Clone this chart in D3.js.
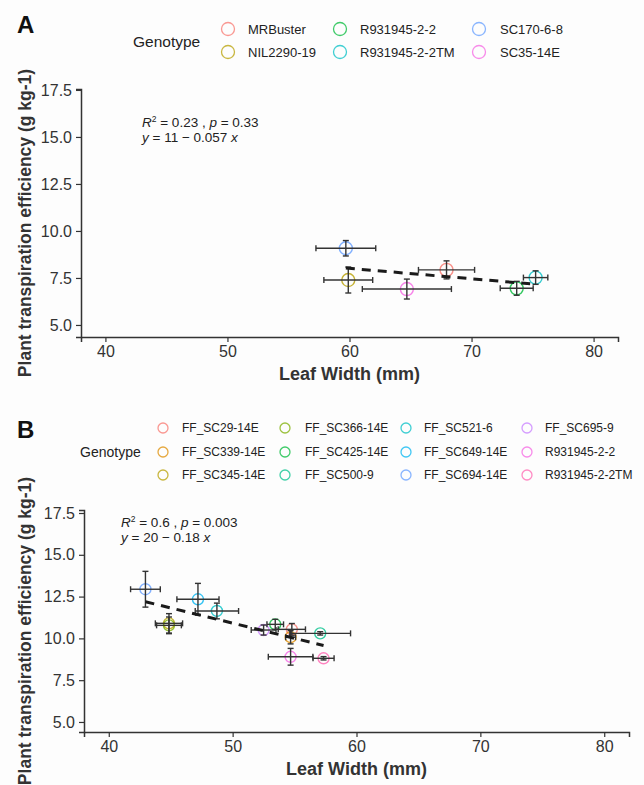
<!DOCTYPE html>
<html>
<head>
<meta charset="utf-8">
<script src="https://cdn.jsdelivr.net/npm/d3@7"></script>
<style>
  body { margin: 0; background: #fdfdfd; }
  svg { display: block; font-family: "Liberation Sans", Arial, sans-serif; }
</style>
</head>
<body>
<svg></svg>
<script>
// panel A data
const genotypesA = ["MRBuster", "NIL2290-19", "R931945-2-2", "R931945-2-2TM", "SC170-6-8", "SC35-14E"];
const colorsA = ["#F8766D", "#B79F00", "#00BA38", "#00BFC4", "#619CFF", "#F564E3"];
const leafWidthA = [67.95, 59.9, 73.7, 75.25, 59.7, 64.7];
const leafWidthSeA = [2.3, 2.0, 1.35, 1.0, 2.45, 3.65];
const pteA = [7.93, 7.39, 6.95, 7.52, 9.08, 6.91];
const pteSeA = [0.48, 0.69, 0.37, 0.36, 0.41, 0.53];
const statsA = ["0.23", "0.33", "11 \u2212 0.057"];

// panel B data
const genotypesB = ["FF_SC29-14E", "FF_SC339-14E", "FF_SC345-14E", "FF_SC366-14E", "FF_SC425-14E", "FF_SC500-9",
                    "FF_SC521-6", "FF_SC649-14E", "FF_SC694-14E", "FF_SC695-9", "R931945-2-2", "R931945-2-2TM"];
const colorsB = ["#F8766D", "#DE8C00", "#B79F00", "#7CAE00", "#00BA38", "#00C08B",
                 "#00BFC4", "#00B4F0", "#619CFF", "#C77CFF", "#F564E3", "#FF64B0"];
const leafWidthB = [54.78, 54.68, 44.86, 44.86, 53.44, 57.07, 48.73, 47.2, 42.96, 52.5, 54.68, 57.34];
const leafWidthSeB = [1.1, 0.4, 1.1, 1.0, 0.67, 2.45, 1.75, 1.7, 1.2, 1.0, 1.8, 0.85];
const pteB = [10.54, 10.07, 10.9, 10.78, 10.84, 10.3, 11.64, 12.34, 12.94, 10.5, 8.9, 8.81];
const pteSeB = [0.35, 0.4, 0.58, 0.5, 0.3, 0.1, 0.47, 0.95, 1.07, 0.3, 0.5, 0.1];
const statsB = ["0.6", "0.003", "20 \u2212 0.18"];

const xTicks = [40, 50, 60, 70, 80];
const yTicks = [5.0, 7.5, 10.0, 12.5, 15.0, 17.5];

const width = 644, height = 785;
const svg = d3.select("svg").attr("width", width).attr("height", height);

function drawPanel(p) {
  const g = svg.append("g");
  const x = d3.scaleLinear().domain([38, 82]).range([p.left, p.right]);
  const y = d3.scaleLinear().domain(p.yDomain).range([p.bottom, p.top]);

  const data = p.geno.map((d, i) => ({
    geno: d, color: p.colors[i], x: p.lw[i], xe: p.lwSe[i], y: p.pte[i], ye: p.pteSe[i]
  }));

  // axes
  const xAxis = g.append("g").attr("transform", `translate(0,${p.bottom})`)
    .call(d3.axisBottom(x).tickValues(xTicks).tickSize(5).tickPadding(4));
  const yAxis = g.append("g").attr("transform", `translate(${p.left},0)`)
    .call(d3.axisLeft(y).tickValues(yTicks).tickFormat(d3.format(".1f")).tickSize(5).tickPadding(4));
  [xAxis, yAxis].forEach(a => {
    a.select(".domain").attr("stroke", "#333").attr("stroke-width", 1.5);
    a.selectAll(".tick line").attr("stroke", "#333").attr("stroke-width", 1.2);
    a.selectAll(".tick text").attr("fill", "#333").style("font-size", "16px")
      .style("font-family", "Liberation Sans, Arial, sans-serif");
  });

  // axis titles
  g.append("text").attr("x", (p.left + p.right) / 2).attr("y", p.bottom + 43)
    .attr("text-anchor", "middle").style("font-size", "18px").style("font-weight", "bold")
    .attr("fill", "#333").text("Leaf Width (mm)");
  g.append("text")
    .attr("transform", `translate(31,${(p.top + p.bottom) / 2 + 10}) rotate(-90)`)
    .attr("text-anchor", "middle").style("font-size", "17.5px").style("font-weight", "bold")
    .attr("fill", "#333").text("Plant transpiration efficiency (g kg-1)");

  // points
  g.selectAll(".pt").data(data).enter().append("circle")
    .attr("cx", d => x(d.x)).attr("cy", d => y(d.y)).attr("r", p.r)
    .attr("fill", "none").attr("stroke", d => d.color).attr("stroke-width", 1.4)
    .attr("stroke-opacity", 0.8);

  // error bars
  const eb = g.append("g").attr("stroke", "#333").attr("stroke-width", 1.4);
  const cap = 3;
  data.forEach(d => {
    const cx = x(d.x), cy = y(d.y);
    const x0 = x(d.x - d.xe), x1 = x(d.x + d.xe);
    const y0 = y(d.y - d.ye), y1 = y(d.y + d.ye);
    eb.append("line").attr("x1", x0).attr("x2", x1).attr("y1", cy).attr("y2", cy);
    eb.append("line").attr("x1", x0).attr("x2", x0).attr("y1", cy - cap).attr("y2", cy + cap);
    eb.append("line").attr("x1", x1).attr("x2", x1).attr("y1", cy - cap).attr("y2", cy + cap);
    eb.append("line").attr("x1", cx).attr("x2", cx).attr("y1", y0).attr("y2", y1);
    eb.append("line").attr("x1", cx - cap).attr("x2", cx + cap).attr("y1", y0).attr("y2", y0);
    eb.append("line").attr("x1", cx - cap).attr("x2", cx + cap).attr("y1", y1).attr("y2", y1);
  });

  // linear fit
  const mx = d3.mean(data, d => d.x), my = d3.mean(data, d => d.y);
  const slope = d3.sum(data, d => (d.x - mx) * (d.y - my)) / d3.sum(data, d => (d.x - mx) ** 2);
  const icpt = my - slope * mx;
  const ext = d3.extent(data, d => d.x);
  g.append("line")
    .attr("x1", x(ext[0])).attr("y1", y(icpt + slope * ext[0]))
    .attr("x2", x(ext[1])).attr("y2", y(icpt + slope * ext[1]))
    .attr("stroke", "#1a1a1a").attr("stroke-width", 3).attr("stroke-dasharray", "9,7");

  // stats label
  const lab = g.append("g").style("font-size", "13.5px").attr("fill", "#222");
  const t1 = lab.append("text").attr("x", p.statX).attr("y", p.statY);
  t1.append("tspan").style("font-style", "italic").text("R");
  t1.append("tspan").attr("baseline-shift", "super").style("font-size", "8.5px").text("2");
  t1.append("tspan").text(` = ${p.stats[0]} , `);
  t1.append("tspan").style("font-style", "italic").text("p");
  t1.append("tspan").text(` = ${p.stats[1]}`);
  const t2 = lab.append("text").attr("x", p.statX).attr("y", p.statY + 15);
  t2.append("tspan").style("font-style", "italic").text("y");
  t2.append("tspan").text(` = ${p.stats[2]} `);
  t2.append("tspan").style("font-style", "italic").text("x");

  // panel letter
  g.append("text").attr("x", 17).attr("y", p.letterY).style("font-size", "24px")
    .style("font-weight", "bold").attr("fill", "#111").text(p.letter);

  // legend
  const leg = g.append("g");
  leg.append("text").attr("x", p.legTitleX).attr("y", p.legTitleY)
    .style("font-size", p.legTitleSize + "px").attr("fill", "#222").text("Genotype");
  const nRows = p.legRows.length;
  data.forEach((d, i) => {
    const c = Math.floor(i / nRows), r = i % nRows;
    leg.append("circle").attr("cx", p.legCircleX[c]).attr("cy", p.legRows[r]).attr("r", p.legR)
      .attr("fill", "none").attr("stroke", d.color).attr("stroke-width", 1.3).attr("stroke-opacity", 0.75);
    leg.append("text").attr("x", p.legLabelX[c]).attr("y", p.legRows[r]).attr("dy", "0.35em")
      .style("font-size", p.legSize + "px").attr("fill", "#222").text(d.geno);
  });
}

drawPanel({
  geno: genotypesA, colors: colorsA, lw: leafWidthA, lwSe: leafWidthSeA, pte: pteA, pteSe: pteSeA,
  stats: statsA, left: 81, right: 618, top: 89, bottom: 337, yDomain: [4.36, 17.55], r: 6.5,
  statX: 142, statY: 127, letter: "A", letterY: 33,
  legTitleX: 133, legTitleY: 47, legTitleSize: 15.5, legSize: 13, legR: 6.5,
  legCircleX: [228, 340, 479], legLabelX: [248, 360, 500], legRows: [29, 52]
});

drawPanel({
  geno: genotypesB, colors: colorsB, lw: leafWidthB, lwSe: leafWidthSeB, pte: pteB, pteSe: pteSeB,
  stats: statsB, left: 84, right: 629, top: 510, bottom: 732, yDomain: [4.4, 17.68], r: 5.5,
  statX: 121, statY: 527, letter: "B", letterY: 438,
  legTitleX: 80, legTitleY: 457, legTitleSize: 14, legSize: 12, legR: 5,
  legCircleX: [163, 285, 406, 527], legLabelX: [182, 305, 424, 545], legRows: [428, 452, 475]
});
</script>
</body>
</html>
